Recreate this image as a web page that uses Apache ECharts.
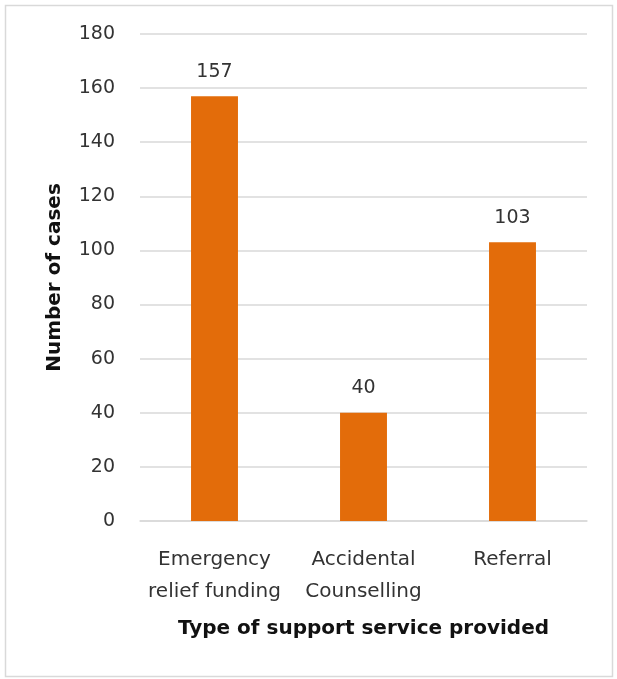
<!DOCTYPE html>
<html><head><meta charset="utf-8">
<script src="https://cdn.jsdelivr.net/npm/echarts@6/dist/echarts.min.js"></script>
<style>html,body{margin:0;padding:0;background:#fff}#c{width:617px;height:679px}</style>
</head><body><div id="c"></div>
<script>
const categories = ['Emergency\nrelief funding', 'Accidental\nCounselling', 'Referral'];
const cases = [157, 40, 103];
const yTicks = { min: 0, max: 180, interval: 20 };

const chart = echarts.init(document.getElementById('c'), null, { renderer: 'canvas' });
const font = '"DejaVu Sans", sans-serif';
chart.setOption({
  animation: false,
  backgroundColor: '#fff',
  graphic: [{
    type: 'rect', shape: { x: 5.5, y: 5.5, width: 607, height: 671 },
    style: { fill: 'none', stroke: '#d9d9d9', lineWidth: 1.5 }, silent: true
  }],
  grid: { left: 140, right: 30, top: 34, bottom: 158 },
  xAxis: {
    type: 'category', data: categories,
    name: 'Type of support service provided', nameLocation: 'middle', nameGap: 98,
    nameTextStyle: { fontFamily: font, fontSize: 20, fontWeight: 'bold', color: '#111' },
    axisLine: { lineStyle: { color: '#d9d9d9', width: 1.5 } },
    axisTick: { show: false },
    axisLabel: { interval: 0, fontFamily: font, fontSize: 20, color: '#333', margin: 23, lineHeight: 32 }
  },
  yAxis: {
    type: 'value', min: yTicks.min, max: yTicks.max, interval: yTicks.interval,
    name: 'Number of cases', nameLocation: 'middle', nameGap: 75,
    nameTextStyle: { fontFamily: font, fontSize: 20, fontWeight: 'bold', color: '#111' },
    axisLine: { show: false }, axisTick: { show: false },
    axisLabel: { fontFamily: font, fontSize: 19, color: '#333', margin: 25 },
    splitLine: { lineStyle: { color: '#d9d9d9', width: 1.5 } }
  },
  series: [{
    type: 'bar', data: cases, barWidth: '31.5%',
    itemStyle: { color: '#E36C0A' },
    label: { show: true, position: 'top', distance: 15, fontFamily: font, fontSize: 19, color: '#333' }
  }]
});
</script></body></html>
